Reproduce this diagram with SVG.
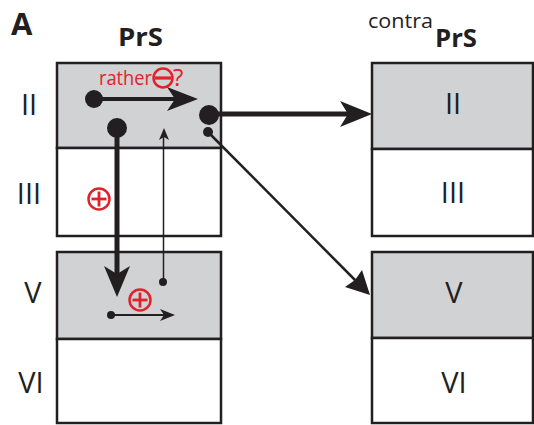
<svg xmlns="http://www.w3.org/2000/svg" width="534" height="425" viewBox="0 0 534 425">
<style>
.g{fill:#d1d2d4;stroke:#231f20;stroke-width:2.5}
.w{fill:#ffffff;stroke:#231f20;stroke-width:2.5}
.lab{font-family:"Open Sans","Liberation Sans",sans-serif;font-size:29px;fill:#231f20;text-anchor:middle}
.bold{font-family:"Open Sans","Liberation Sans",sans-serif;font-weight:bold;fill:#231f20}
.red{fill:none;stroke:#e0232b;stroke-width:2.5}
.ln{stroke:#231f20;fill:none}
.hd{fill:#231f20}
</style>
<rect width="534" height="425" fill="#ffffff"/>
<text class="bold" x="11" y="35" font-size="31">A</text>
<text class="bold" x="118" y="46" font-size="25" textLength="45" lengthAdjust="spacingAndGlyphs">PrS</text>
<text x="368" y="28" font-family="Open Sans, Liberation Sans, sans-serif" font-size="20" fill="#231f20" textLength="65" lengthAdjust="spacingAndGlyphs">contra</text>
<text class="bold" x="435" y="47" font-size="25" textLength="42" lengthAdjust="spacingAndGlyphs">PrS</text>

<g id="prs-II"><rect class="g" x="57" y="63" width="164" height="85"/><text class="lab" x="29" y="115">II</text></g>
<g id="prs-III"><rect class="w" x="57" y="148" width="164" height="88"/><text class="lab" x="29" y="204">III</text></g>
<g id="prs-V"><rect class="g" x="57" y="252" width="164" height="87"/><text class="lab" x="33" y="303">V</text></g>
<g id="prs-VI"><rect class="w" x="57" y="339" width="164" height="84"/><text class="lab" x="31" y="393">VI</text></g>

<g id="contra-II"><rect class="g" x="372" y="63" width="161" height="86"/><text class="lab" x="453" y="114">II</text></g>
<g id="contra-III"><rect class="w" x="372" y="149" width="161" height="87"/><text class="lab" x="453" y="203">III</text></g>
<g id="contra-V"><rect class="g" x="372" y="252" width="161" height="86"/><text class="lab" x="454" y="303">V</text></g>
<g id="contra-VI"><rect class="w" x="372" y="338" width="161" height="85"/><text class="lab" x="454" y="393">VI</text></g>

<g id="labels">
<text x="99" y="85" font-family="Open Sans, Liberation Sans, sans-serif" font-size="20.5" fill="#e0232b" textLength="53" lengthAdjust="spacingAndGlyphs">rather</text>
<circle class="red" cx="163" cy="78" r="9.5"/>
<line x1="155" y1="78" x2="171" y2="78" stroke="#e0232b" stroke-width="3.2"/>
<text x="173" y="86" font-family="Open Sans, Liberation Sans, sans-serif" font-size="24" fill="#e0232b">?</text>
<circle class="red" cx="99" cy="199" r="10.5"/>
<line x1="91.5" y1="199" x2="106.5" y2="199" stroke="#e0232b" stroke-width="2.8"/>
<line x1="99" y1="191.5" x2="99" y2="206.5" stroke="#e0232b" stroke-width="2.8"/>
<circle class="red" cx="140" cy="300" r="10.5"/>
<line x1="132.5" y1="300" x2="147.5" y2="300" stroke="#e0232b" stroke-width="2.8"/>
<line x1="140" y1="292.5" x2="140" y2="307.5" stroke="#e0232b" stroke-width="2.8"/>
</g>

<g id="connectors">
<circle class="hd" cx="94" cy="99" r="9"/>
<line class="ln" x1="94" y1="99" x2="178" y2="99" stroke-width="4"/>
<polygon class="hd" points="198,99 167,87 175,99 167,111"/>
<circle class="hd" cx="209" cy="115" r="10"/>
<line class="ln" x1="209" y1="114" x2="350" y2="114" stroke-width="5"/>
<polygon class="hd" points="372,114 340,101 348,114 340,127"/>
<circle class="hd" cx="208" cy="132" r="5"/>
<line class="ln" x1="208" y1="132" x2="358" y2="283" stroke-width="2.5"/>
<polygon class="hd" points="370,295 345,287 355,280 362,270"/>
<circle class="hd" cx="117" cy="128" r="10"/>
<line class="ln" x1="117" y1="128" x2="117" y2="280" stroke-width="5"/>
<polygon class="hd" points="117,297 104,266 117,274 130,266"/>
<circle class="hd" cx="163" cy="282" r="4"/>
<line class="ln" x1="163.5" y1="282" x2="163.5" y2="136" stroke-width="1.5"/>
<polygon class="hd" points="164,128 159,140 164,137 169,140"/>
<circle class="hd" cx="111" cy="315" r="4"/>
<line class="ln" x1="111" y1="315" x2="166" y2="315" stroke-width="2"/>
<polygon class="hd" points="175,315 160,309 164,315 160,321"/>
</g>
</svg>
